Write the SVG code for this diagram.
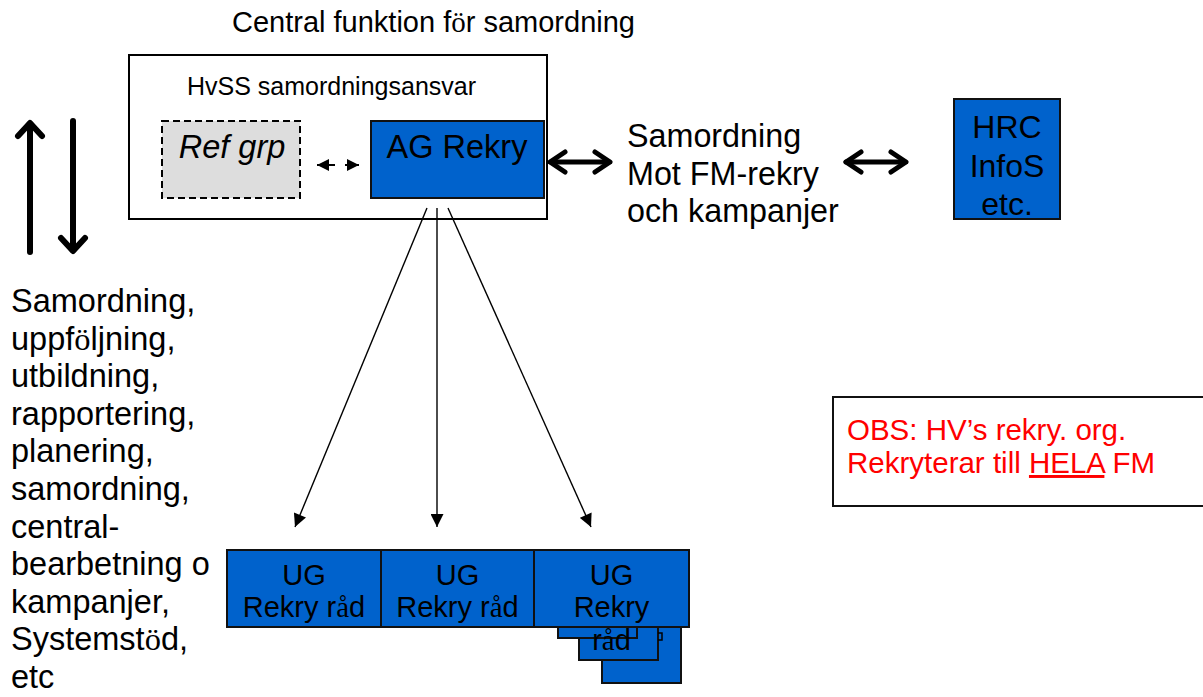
<svg xmlns="http://www.w3.org/2000/svg" width="1203" height="697" viewBox="0 0 1203 697">
<defs>
<style>
text{font-family:"Liberation Sans",Arial,sans-serif;fill:#000}
.blue{fill:#0062cc;stroke:#111;stroke-width:2}
.s{font-family:"Liberation Serif","Times New Roman",serif}
.thin{stroke:#000;stroke-width:1.4;fill:none}
.thick{stroke:#000;stroke-width:6;fill:none;stroke-linecap:round;stroke-linejoin:round}
.dbl{stroke:#000;stroke-width:5;fill:none;stroke-linecap:round;stroke-linejoin:round}
</style>
<marker id="tri" viewBox="0 0 10 10" refX="10" refY="5" markerWidth="13" markerHeight="12" markerUnits="userSpaceOnUse" orient="auto-start-reverse">
<path d="M0,0 L10,5 L0,10 Z" fill="#000"/>
</marker>
<marker id="tri2" viewBox="0 0 10 10" refX="10" refY="5" markerWidth="15" markerHeight="13" markerUnits="userSpaceOnUse" orient="auto">
<path d="M0,0 L10,5 L0,10 Z" fill="#000"/>
</marker>
</defs>

<text x="232" y="32" font-size="29">Central funktion f<tspan class="s">ö</tspan>r samordning</text>

<g id="outer">
<rect x="129" y="55" width="418" height="164" fill="#fff" stroke="#000" stroke-width="2"/>
<text x="187" y="95" font-size="25">HvSS samordningsansvar</text>
</g>

<g id="refgrp">
<rect x="162" y="121" width="138" height="77" fill="#dddddd" stroke="#000" stroke-width="2" stroke-dasharray="7,4"/>
<text x="232" y="158" font-size="32.5" font-style="italic" text-anchor="middle">Ref grp</text>
</g>

<g id="agrekry">
<rect x="371" y="121" width="173" height="77" class="blue"/>
<text x="457" y="158" font-size="32.5" text-anchor="middle">AG Rekry</text>
</g>

<g id="samordning-text">
<text font-size="32.3"><tspan x="627" y="147">Samordning</tspan><tspan x="627" y="184.5">Mot FM-rekry</tspan><tspan x="627" y="222">och kampanjer</tspan></text>
</g>

<g id="hrc">
<rect x="954" y="99" width="106" height="120" class="blue"/>
<text font-size="32" text-anchor="middle"><tspan x="1007" y="138">HRC</tspan><tspan x="1007" y="176.5">InfoS</tspan><tspan x="1007" y="215">etc.</tspan></text>
</g>

<g id="lefttext">
<text font-size="32.5">
<tspan x="11" y="312">Samordning,</tspan>
<tspan x="11" y="349.6">uppf<tspan class="s">ö</tspan>ljning,</tspan>
<tspan x="11" y="387.2">utbildning,</tspan>
<tspan x="11" y="424.8">rapportering,</tspan>
<tspan x="11" y="462.4">planering,</tspan>
<tspan x="11" y="500">samordning,</tspan>
<tspan x="11" y="537.6">central-</tspan>
<tspan x="11" y="575.2">bearbetning o</tspan>
<tspan x="11" y="612.8">kampanjer,</tspan>
<tspan x="11" y="650.4">Systemst<tspan class="s">ö</tspan>d,</tspan>
<tspan x="11" y="688">etc</tspan>
</text>
</g>

<g id="ug1">
<rect x="227" y="550" width="154" height="77" class="blue"/>
<text font-size="29" text-anchor="middle"><tspan x="304" y="585">UG</tspan><tspan x="304" y="617">Rekry r<tspan class="s">å</tspan>d</tspan></text>
</g>
<g id="ug2">
<rect x="381" y="550" width="153" height="77" class="blue"/>
<text font-size="29" text-anchor="middle"><tspan x="457.5" y="585">UG</tspan><tspan x="457.5" y="617">Rekry r<tspan class="s">å</tspan>d</tspan></text>
</g>
<g id="ug3">
<rect x="602" y="600" width="79" height="83" class="blue"/>
<rect x="579" y="600" width="79" height="60" class="blue"/>
<rect x="558" y="600" width="79" height="38" class="blue"/>
<path d="M658,633 L662,633 L662,640 L658,640" fill="none" stroke="#000" stroke-width="1.5"/>
<rect x="534" y="550" width="155" height="77" class="blue"/>
<text font-size="29" text-anchor="middle"><tspan x="611.5" y="585">UG</tspan><tspan x="611.5" y="617">Rekry</tspan><tspan x="611.5" y="650">r<tspan class="s">å</tspan>d</tspan></text>
</g>

<g id="obs">
<rect x="833" y="397" width="380" height="109" fill="#fff" stroke="#111" stroke-width="2"/>
<text font-size="29.5" style="fill:#ff0000"><tspan x="847" y="440">OBS: HV’s rekry. org.</tspan><tspan x="847" y="473">Rekryterar till <tspan text-decoration="underline">HELA</tspan> FM</tspan></text>
</g>

<g id="connectors">
<line x1="30" y1="252" x2="30" y2="124" class="thick"/>
<path d="M18,136 L30,123 L42,136" class="thick"/>
<line x1="73" y1="121" x2="73" y2="250" class="thick"/>
<path d="M61,238 L73,251 L85,238" class="thick"/>

<line x1="551" y1="162" x2="609" y2="162" class="dbl"/>
<path d="M565,152 L550,162 L565,172 M595,152 L610,162 L595,172" class="dbl"/>
<line x1="846" y1="162" x2="905" y2="162" class="dbl"/>
<path d="M861,152 L846,162 L861,172 M891,152 L906,162 L891,172" class="dbl"/>

<line x1="317" y1="165" x2="359" y2="165" stroke="#000" stroke-width="2" stroke-dasharray="18,10" marker-start="url(#tri)" marker-end="url(#tri)"/>

<line x1="427" y1="208" x2="295" y2="527" class="thin" marker-end="url(#tri2)"/>
<line x1="437" y1="208" x2="437" y2="527" class="thin" marker-end="url(#tri2)"/>
<line x1="448" y1="208" x2="591" y2="527" class="thin" marker-end="url(#tri2)"/>
</g>
</svg>
